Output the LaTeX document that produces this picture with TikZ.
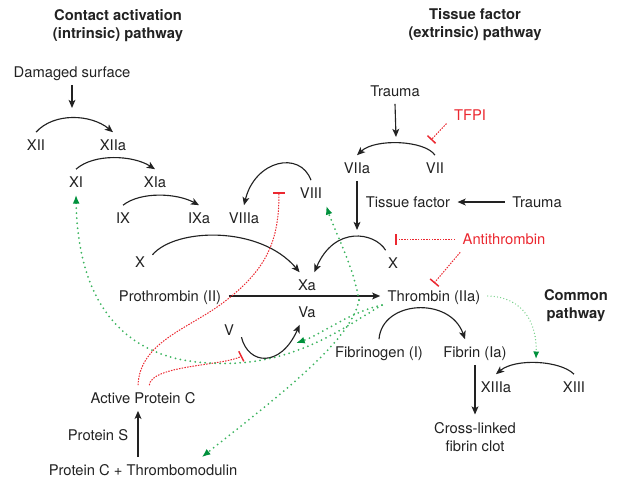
\documentclass[tikz,border=0pt]{standalone}
\usepackage{fontspec}
\setmainfont{TeX Gyre Heros}
\usetikzlibrary{arrows.meta,calc}
\definecolor{inhred}{RGB}{235,40,48}
\definecolor{actgreen}{RGB}{60,180,95}
\definecolor{tipgreen}{RGB}{0,145,60}
\definecolor{litegreen}{RGB}{110,205,130}
\definecolor{ink}{RGB}{34,34,34}

\begin{document}
\begin{tikzpicture}[x=0.8pt,y=-0.8pt,font={\fontsize{11.8pt}{14.4pt}\selectfont},>={Stealth[length=6.5pt,width=5.5pt,inset=1.6pt]}]

\tikzstyle{fac}=[inner sep=2pt, outer sep=4pt, text height=8.5pt, text depth=0pt, text=ink]
\tikzstyle{ttl}=[font={\fontsize{11.8pt}{14.4pt}\selectfont\bfseries}, align=center, anchor=north, inner sep=0pt, text=ink]
\tikzstyle{cr}=[draw=ink, line width=0.9pt, ->]
\tikzstyle{inh}=[draw=inhred, line width=0.8pt, dash pattern=on 1.2pt off 1pt, -{Bar[width=9pt,line width=1.2pt]}]
\tikzstyle{act}=[draw=actgreen, line width=1.6pt, line cap=round, dash pattern=on 0pt off 4pt, -{Latex[length=7pt,width=5.5pt,color=tipgreen]}]
\tikzstyle{litact}=[draw=litegreen, line width=1.1pt, line cap=round, dash pattern=on 0pt off 2.6pt, -{Latex[length=6pt,width=5pt,color=tipgreen]}]

\useasboundingbox (0,0) rectangle (625,500);

% titles
\node(ttlc)[ttl] at (118,9.5) {Contact activation\\(intrinsic) pathway};
\node(ttlt)[ttl] at (475,8.7) {Tissue factor\\(extrinsic) pathway};
\node(ttlm)[ttl] at (576,289.7) {Common\\pathway};

% intrinsic
\node(dmg)[fac] at (72,72) {Damaged surface};
\coordinate (dmgE) at (72,108);
\node(xii)[fac] at (36,145) {XII};
\node(xiia)[fac] at (113,145) {XIIa};
\node(xi)[fac] at (76,182) {XI};
\node(xia)[fac] at (155,182) {XIa};
\node(ix)[fac] at (123,218) {IX};
\node(ixa)[fac] at (199,218) {IXa};
\node(viiia)[fac] at (244,218) {VIIIa};
\node(viii)[fac] at (311,193) {VIII};
\node(xl)[fac] at (140,262) {X};
\node(xa)[fac] at (307,285) {Xa};
\node(va)[fac] at (307,312) {Va};
\node(v)[fac] at (229,330) {V};
\node(pro)[fac] at (170,296) {Prothrombin (II)};
\node(thr)[fac] at (434,296) {Thrombin (IIa)};

\draw[cr] (dmg.south) -- (dmgE);
\draw[cr] (xii.north) .. controls +(18,-20) and +(-22,-18) .. (xiia.north);
\draw[cr] (xi.north) .. controls +(18,-16) and +(-22,-14) .. (xia.north);
\draw[cr] (ix.north) .. controls +(18,-14) and +(-22,-12) .. (ixa.north);
\draw[cr] (viii.north) .. controls +(-11,-30) and +(11,-45) .. (viiia.north);
\draw[cr] (xl.30) .. controls +(23,-27) and +(-40,-47) .. (xa.120);
\draw[cr] (v.-30) .. controls +(7,28) and +(-19,43) .. (va.-120);
\draw[cr] (pro.east) -- (thr.west);

% extrinsic
\node(tr1)[fac] at (395,91) {Trauma};
\coordinate (trE) at (396,137);
\node(viia)[fac] at (357,168) {VIIa};
\node(vii)[fac] at (435,168) {VII};
\node(tfpi)[fac, text=inhred] at (470,115) {TFPI};
\coordinate (tfpiE) at (431,140);
\node(tf)[fac] at (408,202) {Tissue factor};
\node(tr2)[fac] at (537,202) {Trauma};
\coordinate (viiaE) at (357,230);
\node(xr)[fac] at (393,263) {X};
\node(at)[fac, text=inhred] at (504,239.5) {Antithrombin};
\coordinate (atE) at (395,239.5);

\draw[cr] (tr1.south) -- (trE);
\draw[cr] (vii.north) .. controls +(-10,-15) and +(18,-17) .. (viia.north);
\draw[cr] (viia.south) -- (viiaE);
\draw[cr] (tr2.west) -- (tf.east);
\draw[cr] (xr.120) .. controls +(-11,-18) and +(20,-47) .. (xa.60);
\draw[inh] (tfpi.-160) -- (tfpiE);
\draw[inh] (at.west) -- (atE);
\draw[inh] ([xshift=4pt]at.south west) -- (thr.north);

% common
\node(fbg)[fac] at (379,352) {Fibrinogen (I)};
\node(fib)[fac] at (475,352) {Fibrin (Ia)};
\node(xiiia)[fac] at (496,387) {XIIIa};
\node(xiii)[fac] at (574,387) {XIII};
\node(clot)[align=center, anchor=north, inner sep=0pt, text=ink] at (475,422) {Cross-linked\\fibrin clot};
\coordinate (xiiiT) at (536,359);

\draw[cr] (fbg.north) .. controls +(3,-39) and +(-15,-43) .. ([xshift=-8pt]fib.north);
\draw[cr] (fib.south) -- ([yshift=6pt]clot.north);
\draw[cr] (xiii.north) .. controls +(-14,-14) and +(19,-16) .. (xiiia.north);
\draw[litact] (thr.east) .. controls +(37,1) and +(1,-34) .. (xiiiT);

% protein C
\node(apc)[fac] at (143,398) {Active Protein C};
\node(ps)[fac] at (98,435) {Protein S};
\node(pctm)[fac] at (143,470) {Protein C + Thrombomodulin};
\coordinate (apcE1) at (279,192);
\coordinate (apcE2) at (242,356);

\draw[cr] ([xshift=-4pt]pctm.north) -- ([xshift=-4pt]apc.south);
\draw[inh] ([xshift=-4pt]apc.north) .. controls +(2,-42) and +(-35,25) .. (220,305) .. controls +(48,-35) and +(0,48) .. (apcE1);
\draw[inh] ([xshift=5pt]apc.north) .. controls +(2,-20) and +(-20,10) .. (apcE2);

% thrombin feedback
\coordinate (thrA) at (359,300);
\coordinate (thrB) at (382,305);
\coordinate (vaT) at (296,343);
\draw[act] (thrA) .. controls (353,265) and (335,232) .. (viii.-40);
\draw[act] (thrA) .. controls (352,340) and (280,395) .. ([xshift=47pt]pctm.north);
\draw[act] (thrB) .. controls (350,312) and (320,335) .. (vaT);
\draw[act] (thrB) .. controls (340,330) and (290,368) .. (210,363) .. controls (130,360) and (78,310) .. (xi.south);

\end{tikzpicture}
\end{document}
